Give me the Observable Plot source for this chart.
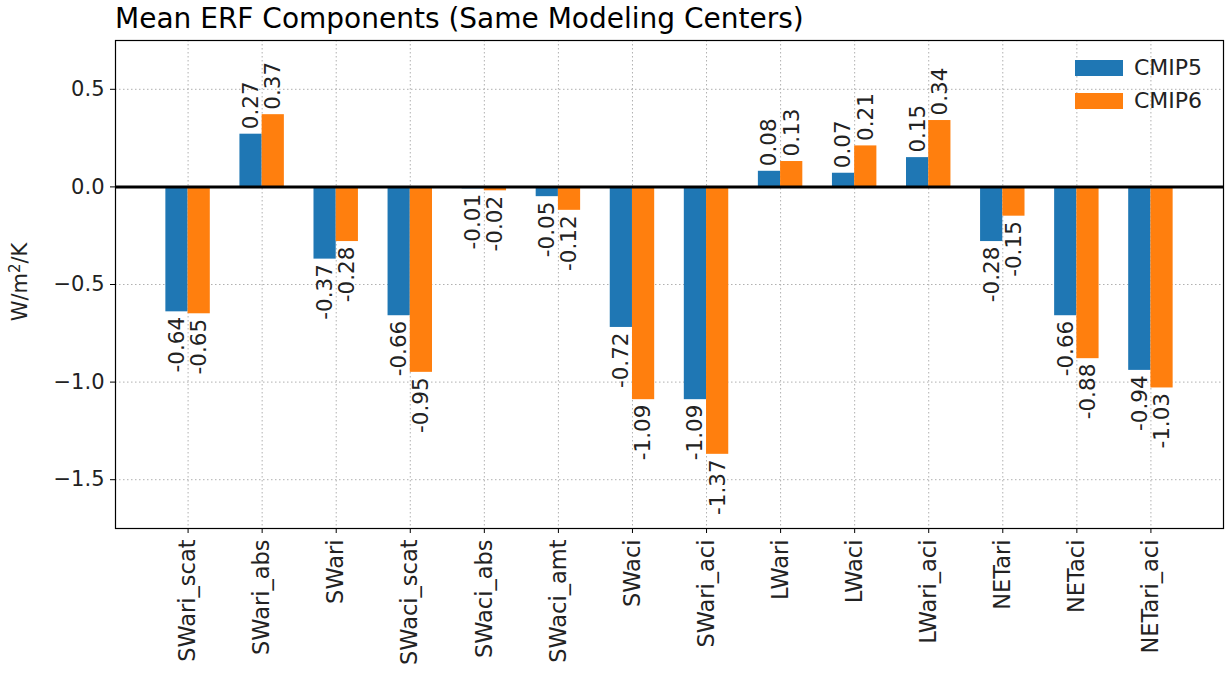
<!DOCTYPE html>
<html>
<head>
<meta charset="utf-8">
<script src="https://cdn.jsdelivr.net/npm/d3@7"></script>
<script src="https://cdn.jsdelivr.net/npm/@observablehq/plot@0.6"></script>
<style>
  body { margin: 0; background: #fff; font-family: "DejaVu Sans", sans-serif; }
  #wrap { position: relative; width: 1225px; height: 679px; }
  #title { position: absolute; left: 115px; top: 2px; font-size: 28px; color: #000; white-space: nowrap; }
  #ylab { position: absolute; left: 20px; top: 282px; font-size: 21px; color: #222; white-space: nowrap; transform: translate(-50%, -50%) rotate(-90deg); }
  #ylab sup { font-size: 15px; vertical-align: 7px; line-height: 0; }
  .leg { position: absolute; display: flex; align-items: center; font-size: 22px; color: #222; }
  .leg span.sw { display: inline-block; width: 48px; height: 16px; margin-right: 11px; }
</style>
</head>
<body>
<div id="wrap">
  <div id="title">Mean ERF Components (Same Modeling Centers)</div>
  <div id="chart"></div>
  <div id="ylab">W/m<sup>2</sup>/K</div>
  <div class="leg" style="left:1075px; top:55px;"><span class="sw" style="background:#1f77b4"></span>CMIP5</div>
  <div class="leg" style="left:1075px; top:88px;"><span class="sw" style="background:#ff7f0e"></span>CMIP6</div>
</div>
<script>
const categories = ["SWari_scat","SWari_abs","SWari","SWaci_scat","SWaci_abs","SWaci_amt","SWaci","SWari_aci","LWari","LWaci","LWari_aci","NETari","NETaci","NETari_aci"];
const cmip5 = [-0.64, 0.27, -0.37, -0.66, -0.01, -0.05, -0.72, -1.09, 0.08, 0.07, 0.15, -0.28, -0.66, -0.94];
const cmip6 = [-0.65, 0.37, -0.28, -0.95, -0.02, -0.12, -1.09, -1.37, 0.13, 0.21, 0.34, -0.15, -0.88, -1.03];
const seriesNames = ["CMIP5", "CMIP6"];
const seriesColors = ["#1f77b4", "#ff7f0e"];
const yTicks = [-1.5, -1.0, -0.5, 0.0, 0.5];

const barW = 0.3;
const rows = [];
[cmip5, cmip6].forEach((vals, s) => {
  vals.forEach((v, i) => {
    const x1 = s === 0 ? i - barW : i;
    rows.push({cat: categories[i], series: seriesNames[s], value: v, x1, x2: x1 + barW, xc: x1 + barW / 2, label: v.toFixed(2)});
  });
});
const pos = rows.filter(d => d.value >= 0);
const neg = rows.filter(d => d.value < 0);
const idx = categories.map((_, i) => i);

const chart = Plot.plot({
  width: 1225,
  height: 679,
  marginLeft: 115,
  marginRight: 2,
  marginTop: 40,
  marginBottom: 151,
  style: {fontFamily: "DejaVu Sans", fontSize: "21px", color: "#222", background: "white"},
  x: {type: "linear", domain: [-0.98, 13.98], axis: null},
  y: {domain: [-1.75, 0.75], axis: null},
  color: {domain: seriesNames, range: seriesColors},
  marks: [
    Plot.gridX(idx, {stroke: "#b0b0b0", strokeOpacity: 1, strokeWidth: 1, strokeDasharray: "1.5,2.5"}),
    Plot.gridY(yTicks, {stroke: "#b0b0b0", strokeOpacity: 1, strokeWidth: 1, strokeDasharray: "1.5,2.5"}),
    Plot.rectY(rows, {x1: "x1", x2: "x2", y1: 0, y2: "value", fill: "series", insetLeft: 0, insetRight: 0}),
    Plot.ruleY([0], {stroke: "black", strokeWidth: 3}),
    Plot.text(pos, {x: "xc", y: "value", text: "label", rotate: -90, textAnchor: "start", lineAnchor: "middle", dy: -5, fill: "#222", fontSize: 21.5}),
    Plot.text(neg, {x: "xc", y: "value", text: "label", rotate: -90, textAnchor: "end", lineAnchor: "middle", dy: 5, fill: "#222", fontSize: 21.5}),
    Plot.frame({stroke: "black", strokeWidth: 1.2}),
    Plot.axisX(idx, {tickFormat: i => categories[i], tickRotate: -90, tickSize: 5, tickPadding: 6, fontSize: 22.5, stroke: "black", fill: "#222"}),
    Plot.axisY(yTicks, {tickFormat: d3.format(".1f"), tickSize: 5, tickPadding: 6, fontSize: 21, fill: "#222", stroke: "black", label: null})
  ]
});
document.getElementById("chart").appendChild(chart);
</script>
</body>
</html>
